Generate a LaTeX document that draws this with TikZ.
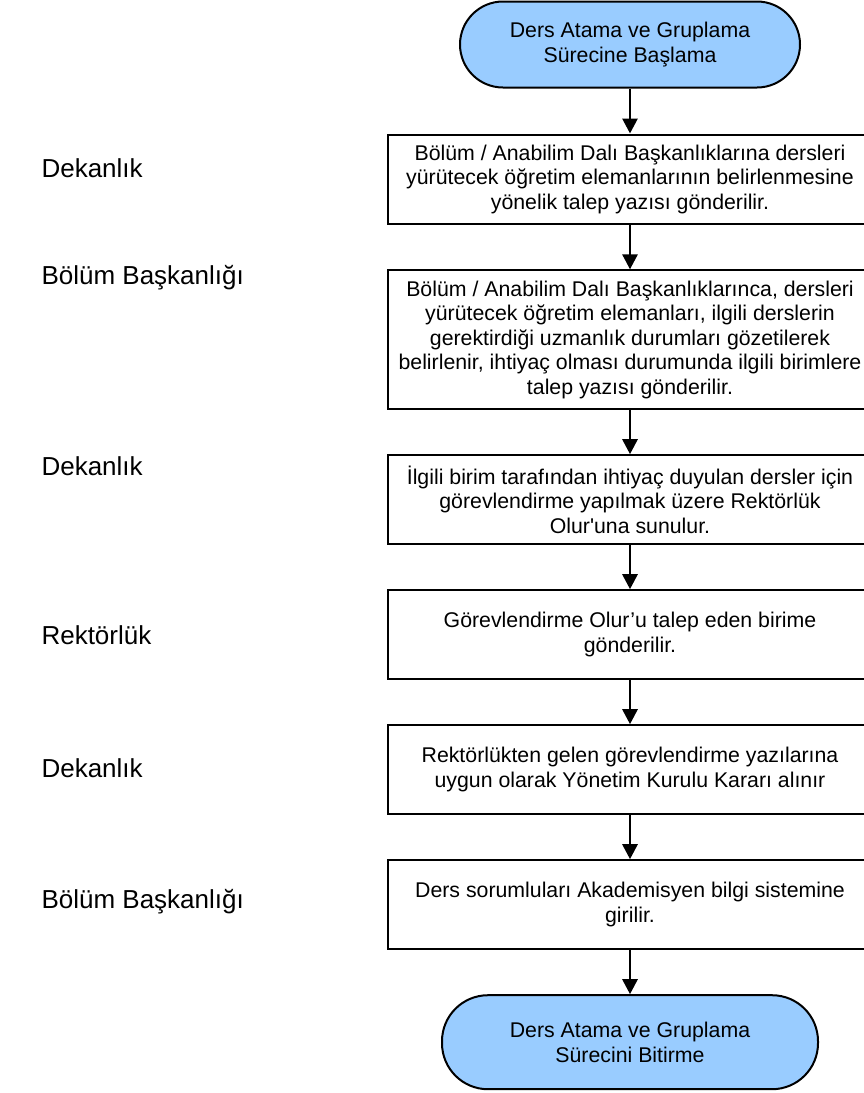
\documentclass[tikz,border=0pt]{standalone}
\usepackage{fontspec}
\setmainfont{Liberation Sans}[Ligatures=TeXOff]
\usepackage{tikz}
\usetikzlibrary{positioning,arrows.meta}
\definecolor{termblue}{RGB}{153,204,255}

\begin{document}
\begin{tikzpicture}[
          x=1pt,y=1pt,
          node distance=44pt,
          termnode/.style={draw,line width=2pt,fill=termblue,rounded corners=43pt,
            minimum height=86pt,align=center,font=\fontsize{21.3}{24.5}\selectfont},
          stepbox/.style={draw,line width=2pt,minimum width=484pt,minimum height=89pt,
            inner ysep=10.5pt,inner xsep=2pt,align=center,font=\fontsize{21.3}{24.5}\selectfont},
          unitlabel/.style={anchor=west,font=\fontsize{26}{30}\selectfont},
          flow/.style={line width=2.8pt,-{Triangle[width=15pt,length=15pt]}}
        ]
        \useasboundingbox (0,0) rectangle (863,-1093);
        % akis
        \node[termnode,minimum width=340pt] (start) at (630,-44.5) {Ders Atama ve Gruplama\\Sürecine Başlama};
        \node[stepbox,below=45pt of start] (b1) {Bölüm / Anabilim Dalı Başkanlıklarına dersleri\\yürütecek öğretim elemanlarının belirlenmesine\\yönelik talep yazısı gönderilir.};
        \node[stepbox,below=of b1] (b2) {Bölüm / Anabilim Dalı Başkanlıklarınca, dersleri\\yürütecek öğretim elemanları, ilgili derslerin\\gerektirdiği uzmanlık durumları gözetilerek\\belirlenir, ihtiyaç olması durumunda ilgili birimlere\\talep yazısı gönderilir.};
        \node[stepbox,below=of b2] (b3) {İlgili birim tarafından ihtiyaç duyulan dersler için\\görevlendirme yapılmak üzere Rektörlük\\Olur'una sunulur.};
        \node[stepbox,below=of b3] (b4) {Görevlendirme Olur’u talep eden birime\\gönderilir.};
        \node[stepbox,below=of b4] (b5) {Rektörlükten gelen görevlendirme yazılarına\\uygun olarak Yönetim Kurulu Kararı alınır};
        \node[stepbox,below=of b5] (b6) {Ders sorumluları Akademisyen bilgi sistemine\\girilir.};
        \node[termnode,minimum width=376pt,minimum height=94pt,rounded corners=46pt,below=of b6] (finish) {Ders Atama ve Gruplama\\Sürecini Bitirme};

        \draw[flow] (start.south) -- (b1.north);
        \draw[flow] (b1.south) -- (b2.north);
        \draw[flow] (b2.south) -- (b3.north);
        \draw[flow] (b3.south) -- (b4.north);
        \draw[flow] (b4.south) -- (b5.north);
        \draw[flow] (b5.south) -- (b6.north);
        \draw[flow] (b6.south) -- (finish.north);

        % birimler
        \node[unitlabel] (u1) at (38,-168) {Dekanlık};
        \node[unitlabel] (u2) at (38,-278) {Bölüm Başkanlığı};
        \node[unitlabel] (u3) at (38,-466) {Dekanlık};
        \node[unitlabel] (u4) at (38,-635) {Rektörlük};
        \node[unitlabel] (u5) at (38,-768) {Dekanlık};
        \node[unitlabel] (u6) at (38,-902) {Bölüm Başkanlığı};
\end{tikzpicture}
\end{document}
